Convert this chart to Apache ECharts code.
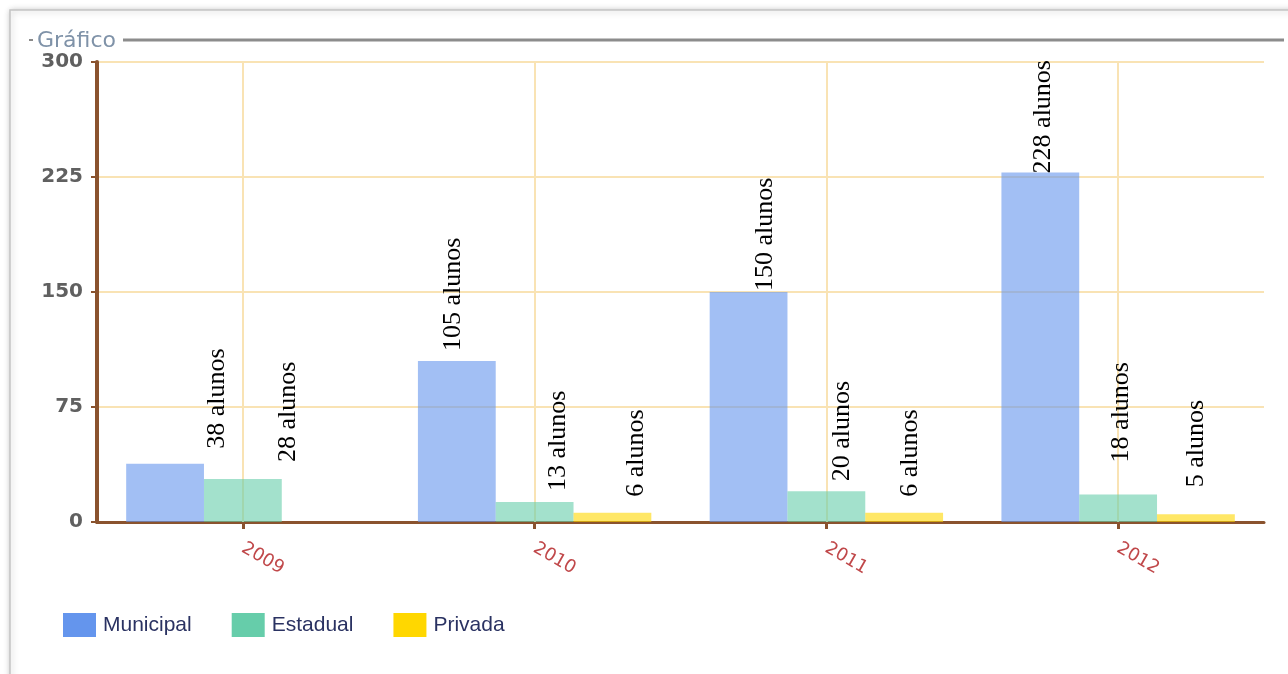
<!DOCTYPE html>
<html>
<head>
<meta charset="utf-8">
<title>Gráfico</title>
<script src="https://cdn.jsdelivr.net/npm/echarts@6/dist/echarts.min.js"></script>
<style>
  html, body { margin: 0; padding: 0; background: #ffffff; }
  #chart { width: 1288px; height: 674px; }
</style>
</head>
<body>
<div id="chart"></div>
<script>
// Matrículas por rede de ensino, 2009–2012
const years = ['2009', '2010', '2011', '2012'];
const seriesNames = ['Municipal', 'Estadual', 'Privada'];
const municipal = [38, 105, 150, 228];
const estadual = [28, 13, 20, 18];
const privada = [0, 6, 6, 5];
const yTicks = [0, 75, 150, 225, 300];

// Hand placement of the vertical value labels: sideways nudge and gap above the bar (px)
const labelNudge = [
  [52, -4, 17, 3],
  [45, 24, 16, 3],
  [0, 24, 6, 0]
];
const labelGap = [
  [15, 10, 1, -1],
  [17, 11, 10, 32],
  [0, 16, 16, 27]
];

const baseColors = ['#6495ED', '#66CDAA', '#FFD700'];
const values = [municipal, estadual, privada];

const chart = echarts.init(document.getElementById('chart'), null, { renderer: 'canvas' });

// Vertical guide lines through each year's tick, kept under the bars and labels
const guideSeries = {
  name: 'guias',
  type: 'line',
  data: [],
  silent: true,
  z: 1,
  markLine: {
    z: 1,
    silent: true,
    symbol: 'none',
    label: { show: false },
    lineStyle: { color: '#f9e3b4', width: 2, type: 'solid' },
    data: years.map(function (y) { return { xAxis: y }; })
  }
};

const barSeries = seriesNames.map(function (name, s) {
  return {
    name: name,
    type: 'bar',
    barGap: '0%',
    barCategoryGap: '20%',
    itemStyle: { color: echarts.color.modifyAlpha(baseColors[s], 0.6) },
    data: values[s].map(function (v, i) {
      return {
        value: v,
        label: {
          show: v > 0,
          distance: labelGap[s][i],
          offset: [0, labelNudge[s][i]]
        }
      };
    }),
    label: {
      show: true,
      position: 'top',
      rotate: 90,
      align: 'left',
      verticalAlign: 'middle',
      fontFamily: 'Liberation Serif, Times New Roman, serif',
      fontSize: 26,
      color: '#000000',
      formatter: function (p) { return p.value + ' alunos'; }
    },
    z: 3
  };
});

chart.setOption({
  animation: false,
  backgroundColor: '#ffffff',
  graphic: [
    {
      type: 'rect',
      shape: { x: 10, y: 10, width: 1290, height: 680 },
      style: { fill: '#ffffff', stroke: '#c4c4c4', lineWidth: 1.5, shadowBlur: 6, shadowColor: 'rgba(0,0,0,0.25)', shadowOffsetX: 1, shadowOffsetY: 1 },
      z: -10
    },
    {
      type: 'rect',
      shape: { x: 29, y: 39, width: 4, height: 2 },
      style: { fill: '#8a8a8a' }
    },
    {
      type: 'text',
      left: 37,
      top: 30,
      style: { text: 'Gráfico', fontFamily: 'DejaVu Sans, Verdana, sans-serif', fontSize: 22, fill: '#7f92a8' }
    },
    {
      type: 'line',
      shape: { x1: 123, y1: 40, x2: 1284, y2: 40 },
      style: { stroke: '#8c8c8c', lineWidth: 3 }
    }
  ],
  legend: {
    data: seriesNames.map(function (n, s) { return { name: n, itemStyle: { color: baseColors[s] } }; }),
    left: 63,
    top: 613,
    padding: 0,
    icon: 'rect',
    itemWidth: 33,
    itemHeight: 24,
    itemGap: 40,
    textStyle: { fontFamily: 'Liberation Sans, Arial, sans-serif', fontSize: 21, color: '#2a3262', padding: [0, 0, 0, 2] }
  },
  grid: { left: 97, right: 24, top: 62, bottom: 152, containLabel: false },
  xAxis: {
    type: 'category',
    data: years,
    axisLine: { lineStyle: { color: '#8a532e', width: 3 } },
    axisTick: { show: true, alignWithLabel: true, length: 7, lineStyle: { color: '#8a532e', width: 3 } },
    splitLine: { show: false },
    axisLabel: {
      rotate: -30,
      margin: 25,
      fontFamily: 'DejaVu Sans, Verdana, sans-serif',
      fontSize: 18,
      color: '#c0484a'
    }
  },
  yAxis: {
    type: 'value',
    min: yTicks[0],
    max: yTicks[yTicks.length - 1],
    interval: yTicks[1] - yTicks[0],
    axisLine: { show: true, lineStyle: { color: '#8a532e', width: 4 } },
    axisTick: { show: true, length: 6, lineStyle: { color: '#8a532e', width: 2 } },
    splitLine: { show: true, lineStyle: { color: '#f9e3b4', width: 2 } },
    axisLabel: {
      margin: 14,
      fontFamily: 'DejaVu Sans, Verdana, sans-serif',
      fontSize: 20,
      fontWeight: 'bold',
      color: '#606060'
    }
  },
  series: [guideSeries].concat(barSeries)
});
</script>
</body>
</html>
